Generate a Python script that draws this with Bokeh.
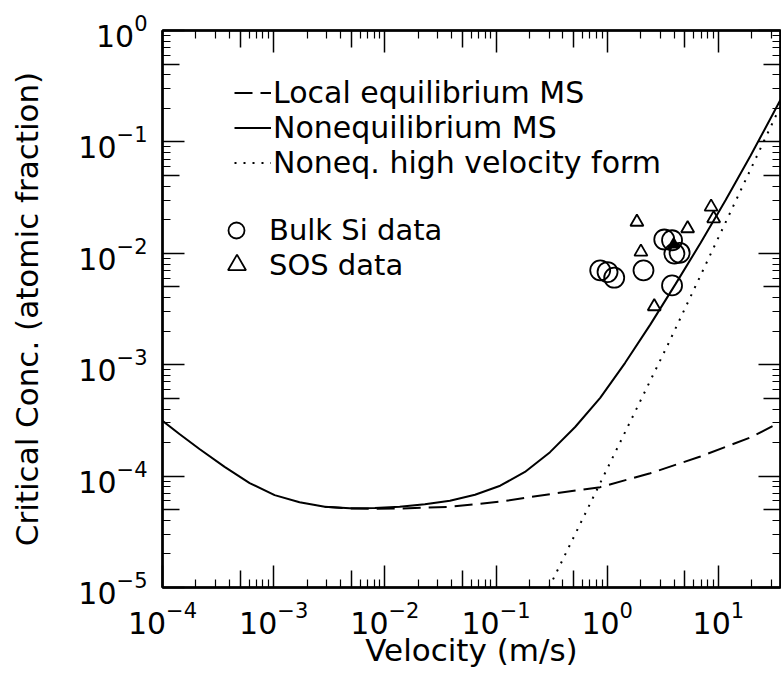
from bokeh.plotting import figure
from bokeh.models import LogAxis, FixedTicker, Legend, LegendItem, Range1d
from bokeh.embed import file_html
from bokeh.resources import INLINE

# ---- data ----
noneq_v = [1.0e-4, 1.42e-4, 2.15e-4, 3.62e-4, 6.08e-4, 1.02e-3, 1.71e-3, 2.88e-3,
           4.84e-3, 8.13e-3, 1.36e-2, 2.29e-2, 3.85e-2, 6.47e-2, 0.109, 0.182,
           0.306, 0.515, 0.865, 1.45, 2.44, 4.10, 6.89, 11.6, 19.4, 36.2]
noneq_c = [3.13e-4, 2.39e-4, 1.75e-4, 1.21e-4, 8.65e-5, 6.75e-5, 5.83e-5, 5.30e-5,
           5.15e-5, 5.17e-5, 5.30e-5, 5.60e-5, 6.00e-5, 6.80e-5, 8.20e-5, 1.09e-4,
           1.64e-4, 2.76e-4, 5.04e-4, 1.04e-3, 2.29e-3, 5.26e-3, 1.23e-2, 3.0e-2,
           7.48e-2, 0.239]

loceq_v = [2.88e-3, 4.84e-3, 8.13e-3, 1.36e-2, 3.85e-2, 0.109, 0.306, 0.865, 2.44,
           6.89, 19.4, 36.2]
loceq_c = [5.30e-5, 5.12e-5, 5.10e-5, 5.12e-5, 5.30e-5, 5.90e-5, 6.89e-5, 7.96e-5,
           1.06e-4, 1.50e-4, 2.22e-4, 3.05e-4]

highv_v = [0.30, 3.5, 36.2]
highv_c = [1.0e-5, 1.5e-3, 0.21]

bulk_v = [0.865, 1.007, 1.156, 2.12, 3.26, 3.83, 4.02, 4.48, 3.83]
bulk_c = [7.03e-3, 6.79e-3, 6.04e-3, 7.03e-3, 1.33e-2, 1.31e-2, 9.94e-3, 1.01e-2, 5.15e-3]

sos_v = [1.85, 2.01, 5.29, 8.6, 9.07, 2.65]
sos_c = [1.91e-2, 1.03e-2, 1.67e-2, 2.61e-2, 2.05e-2, 3.33e-3]
sos_filled_v = [3.96]
sos_filled_c = [1.2e-2]

x_decades = [-4, -3, -2, -1, 0, 1]
y_decades = [-5, -4, -3, -2, -1, 0]

x_major = [10.0 ** e for e in x_decades]
y_major = [10.0 ** e for e in y_decades]
x_five = [5 * 10.0 ** e for e in [-5] + x_decades]
y_five = [5 * 10.0 ** e for e in [-6] + y_decades]
x_minor = [m * 10.0 ** e for e in [-5] + x_decades for m in (2, 3, 4, 6, 7, 8, 9)]
y_minor = [m * 10.0 ** e for e in [-6] + y_decades for m in (2, 3, 4, 6, 7, 8, 9)]

FONT = "DejaVu Sans"

p = figure(width=781, height=695, output_backend="svg", toolbar_location=None,
           x_axis_type="log", y_axis_type="log",
           x_axis_location=None, y_axis_location=None,
           x_range=Range1d(1e-4, 36.2), y_range=Range1d(1e-5, 1.0),
           min_border_left=162, min_border_right=1, min_border_top=30,
           min_border_bottom=108)
for g in p.grid:
    g.visible = False
p.outline_line_color = "black"
p.outline_line_width = 2
p.background_fill_color = "white"
p.border_fill_color = "white"


def hide_labels(ax):
    ax.major_label_text_font_size = "1px"
    ax.major_label_text_alpha = 0
    ax.major_label_standoff = 0


def inner_axis(ticks):
    ax = LogAxis(ticker=FixedTicker(ticks=ticks, minor_ticks=[]),
                 major_tick_in=17, major_tick_out=0,
                 major_tick_line_width=1.5, minor_tick_line_color=None,
                 axis_line_width=2)
    hide_labels(ax)
    return ax


def outer_axis(ticks, minors, labelled, label=None):
    ax = LogAxis(ticker=FixedTicker(ticks=ticks, minor_ticks=minors),
                 major_tick_in=22, major_tick_out=0, minor_tick_in=8, minor_tick_out=0,
                 major_tick_line_width=1.5, minor_tick_line_width=1.2,
                 axis_line_width=2)
    if labelled:
        ax.major_label_text_font = FONT
        ax.major_label_text_font_size = "30px"
        ax.major_label_text_color = "black"
        ax.major_label_standoff = 15
        ax.axis_label = label
        ax.axis_label_text_font = FONT
        ax.axis_label_text_font_size = "31px"
        ax.axis_label_text_font_style = "normal"
        ax.axis_label_text_color = "black"
    else:
        hide_labels(ax)
    return ax


ax_b = outer_axis(x_major, x_minor, True, "Velocity (m/s)")
ax_b.major_label_standoff = 13
ax_b.axis_label_standoff = -5
ax_l = outer_axis(y_major, y_minor, True, "Critical Conc. (atomic fraction)")
ax_l.axis_label_standoff = 30

p.add_layout(inner_axis(x_five), "below")
p.add_layout(ax_b, "below")
p.add_layout(inner_axis(y_five), "left")
p.add_layout(ax_l, "left")
p.add_layout(inner_axis(x_five), "above")
p.add_layout(outer_axis(x_major, x_minor, False), "above")
p.add_layout(inner_axis(y_five), "right")
p.add_layout(outer_axis(y_major, y_minor, False), "right")

r_loc = p.line(loceq_v, loceq_c, line_color="black", line_width=2, line_dash="18 8")
r_non = p.line(noneq_v, noneq_c, line_color="black", line_width=2)
r_hv = p.line(highv_v, highv_c, line_color="black", line_width=2, line_dash="2 7")

r_bulk = p.scatter(bulk_v, bulk_c, marker="circle", size=20, fill_color=None,
                   line_color="black", line_width=1.8)
r_sos = p.scatter(sos_v, sos_c, marker="triangle", size=13, fill_color=None,
                  line_color="black", line_width=1.8)
p.scatter(sos_filled_v, sos_filled_c, marker="triangle", size=11, fill_color="black",
          line_color="black", line_width=1.8)


def make_legend(items, loc, gw, gh, standoff, fs="30px"):
    lg = Legend(items=items, location=loc, glyph_width=gw, glyph_height=gh,
                label_height=gh, label_standoff=standoff, spacing=0, padding=0,
                margin=0, border_line_color=None, background_fill_alpha=0,
                label_text_font=FONT, label_text_font_size=fs,
                label_text_line_height=1.0,
                label_text_color="black", label_text_baseline="middle")
    p.add_layout(lg)
    return lg


make_legend([LegendItem(label="Local equilibrium MS", renderers=[r_loc]),
             LegendItem(label="Nonequilibrium MS", renderers=[r_non]),
             LegendItem(label="Noneq. high velocity form", renderers=[r_hv])],
            (72, 407), 37, 31, 2)
make_legend([LegendItem(label="Bulk Si data", renderers=[r_bulk])], (54, 337), 40, 40, 13,
            "29px")
make_legend([LegendItem(label="SOS data", renderers=[r_sos])], (52, 300), 45, 45, 10,
            "29px")

open("out.html", "w").write(file_html(p, INLINE))
